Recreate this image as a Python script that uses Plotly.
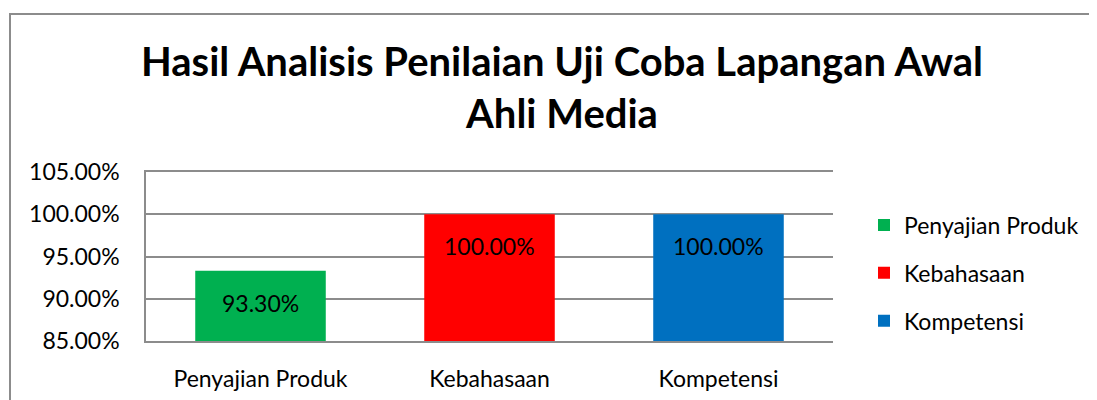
import plotly.graph_objects as go

categories = ['Penyajian Produk', 'Kebahasaan', 'Kompetensi']
values = [0.933, 1.00, 1.00]
colors = ['#00b050', '#ff0000', '#0070c0']
tick_vals = [0.85, 0.90, 0.95, 1.00, 1.05]

FONT = 'Lato'
OFF = 8  # page body margin
W, H = 1097 - OFF, 400 - OFF
# plot area edges, in page pixels minus the body margin
L, R, T, B = 146 - OFF, 833 - OFF, 172 - OFF, 341 - OFF

fig = go.Figure()
for cat, val, col in zip(categories, values, colors):
    fig.add_trace(go.Bar(
        x=[cat], y=[val], name=cat,
        marker=dict(color=col, line=dict(width=0)),
        legendgroup=cat,
        hoverinfo='skip',
    ))
    fig.add_annotation(
        x=cat, y=val, text='{:.2f}%'.format(val * 100),
        showarrow=False, yshift=-32, yanchor='middle',
        font=dict(family=FONT, size=23, color='black'),
    )

# outer chart frame
pw, ph = R - L, B - T
fig.add_shape(type='rect', xref='paper', yref='paper',
              x0=(10 - OFF - L) / pw, x1=(W + 20 - L) / pw,
              y0=(B - H - 20) / ph, y1=(B - (14 - OFF)) / ph,
              line=dict(color='#8c8c8c', width=2), fillcolor='rgba(0,0,0,0)', layer='below')

fig.update_layout(
    width=W, height=H,
    margin=dict(l=L, r=W - R, t=T, b=H - B, autoexpand=False),
    paper_bgcolor='white', plot_bgcolor='white',
    barmode='overlay', bargap=0.43,
    font=dict(family=FONT, color='black'),
    title=dict(
        text='<b>Hasil Analisis Penilaian Uji Coba Lapangan Awal<br>Ahli Media</b>',
        x=554 / W, xanchor='center', y=1 - 68 / H, yanchor='middle',
        font=dict(family=FONT, size=40, color='black'),
    ),
    showlegend=True,
    legend=dict(
        x=(856 - L) / pw, xanchor='left', y=(B - 265) / ph, yanchor='middle',
        font=dict(family=FONT, size=23, color='black'),
        tracegroupgap=15, bgcolor='rgba(0,0,0,0)',
    ),
    xaxis=dict(
        automargin=False, mirror=True,
        showgrid=False, showline=True, linecolor='#8c8c8c', linewidth=1.5,
        tickfont=dict(family=FONT, size=23), ticks='', ticklabelstandoff=17,
    ),
    yaxis=dict(
        automargin=False,
        range=[0.85, 1.05], tickvals=tick_vals, tickformat='.2%',
        showgrid=True, gridcolor='#8c8c8c', gridwidth=1.5,
        showline=True, linecolor='#8c8c8c', linewidth=1.5,
        zeroline=False, ticks='', ticklabelstandoff=20,
        tickfont=dict(family=FONT, size=23),
    ),
)

fig.write_html('out.html')
